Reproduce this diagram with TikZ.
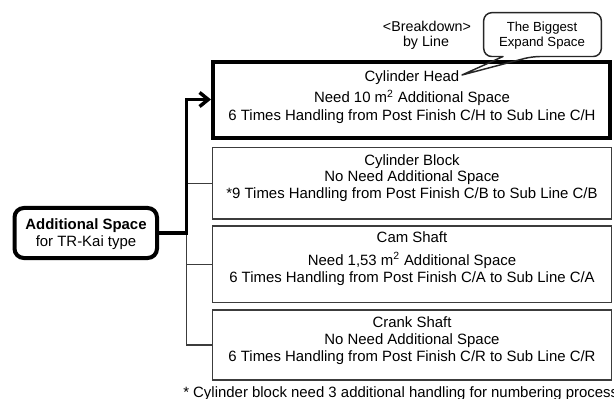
\documentclass[tikz,border=0pt]{standalone}
\usepackage{fontspec}
\setmainfont{Liberation Sans}
\usetikzlibrary{arrows.meta}
\definecolor{thingray}{HTML}{3C3C3C}
\begin{document}
\begin{tikzpicture}[x=0.75pt,y=-0.75pt,
  txt/.style={font=\fontsize{11.2pt}{13pt}\selectfont, anchor=base, inner sep=0pt},
  smalltxt/.style={font=\fontsize{9.9pt}{12pt}\selectfont, anchor=base, inner sep=0pt},
  midtxt/.style={font=\fontsize{10.7pt}{12pt}\selectfont, anchor=base, inner sep=0pt},
  mainbox/.style={draw=black, line width=3pt, inner sep=0pt},
  subbox/.style={draw=thingray, line width=0.9pt, inner sep=0pt, minimum width=399*0.75pt},
  rootbox/.style={draw=black, line width=3pt, rounded corners=7pt, inner sep=0pt,
                  minimum width=142.5*0.75pt, minimum height=50*0.75pt},
  thickline/.style={draw=black, line width=2.6pt},
  thinline/.style={draw=thingray, line width=0.9pt},
  calloutline/.style={draw=black!85, line width=1.1pt}
]
\useasboundingbox (0,0) rectangle (614,399);

% boxes
\node[mainbox, minimum width=397*0.75pt, minimum height=76.5*0.75pt] (ch) at (411.5,100.25) {};
\node[subbox, minimum height=71.5*0.75pt] (cb) at (412,183.25) {};
\node[subbox, minimum height=76.5*0.75pt] (cs) at (412,264.25) {};
\node[subbox, minimum height=70*0.75pt] (ks) at (412,345) {};
\node[rootbox] (root) at (85.75,233) {};

% root text
\node[txt, font=\fontsize{11.2pt}{13pt}\selectfont\bfseries] (rt1) at (86,229) {Additional Space};
\node[txt] (rt2) at (86,247) {for TR-Kai type};

% header
\node[midtxt] (hd1) at (427,32) {<Breakdown>};
\node[midtxt] (hd2) at (426,47) {by Line};

% cylinder head text
\node[txt] (ch1) at (412,82) {Cylinder Head};
\node[txt] (ch2) at (412,103) {Need 10 m\textsuperscript{2} Additional Space};
\node[txt] (ch3) at (412,121) {6 Times Handling from Post Finish C/H to Sub Line C/H};

% cylinder block text
\node[txt] (cb1) at (412,166) {Cylinder Block};
\node[txt] (cb2) at (412,182) {No Need Additional Space};
\node[txt] (cb3) at (412,199) {*9 Times Handling from Post Finish C/B to Sub Line C/B};

% cam shaft text
\node[txt] (cs1) at (412,243) {Cam Shaft};
\node[txt] (cs2) at (412,265) {Need 1,53 m\textsuperscript{2} Additional Space};
\node[txt] (cs3) at (412,282) {6 Times Handling from Post Finish C/A to Sub Line C/A};

% crank shaft text
\node[txt] (ks1) at (412,327) {Crank Shaft};
\node[txt] (ks2) at (412,344) {No Need Additional Space};
\node[txt] (ks3) at (412,361) {6 Times Handling from Post Finish C/R to Sub Line C/R};

% footnote
\node[txt, anchor=base west] (fn) at (183,397) {* Cylinder block need 3 additional handling for numbering process};

% connectors
\coordinate (j) at (186.5,233);
\coordinate (jt) at (186.5,99.5);
\draw[thinline] (j) |- (ks.west);
\draw[thinline] (j |- cs.west) -- (cs.west);
\draw[thinline] (j |- cb.west) -- (cb.west);
\draw[thickline, -{Straight Barb[length=6.5pt,width=10.5pt]}] (root.east) -- (j) -- (jt) -- (jt -| ch.west);

% callout
\node[smalltxt] (co1) at (542,32) {The Biggest};
\node[smalltxt] (co2) at (542,47) {Expand Space};
\coordinate (tip) at (462,75);
\draw[calloutline, line join=round] (503,56.5) [rounded corners=6pt] -- (483.7,56.5) -- (483.7,12.7) -- (601.3,12.7) -- (601.3,56.5) -- (532,56.5) [sharp corners] -- (tip) -- cycle;
\end{tikzpicture}
\end{document}
